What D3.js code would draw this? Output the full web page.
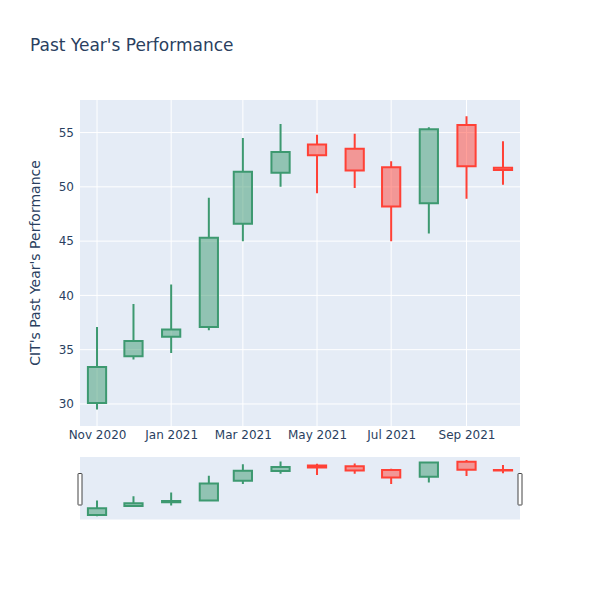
<!DOCTYPE html>
<html>
<head>
<meta charset="utf-8">
<script src="https://cdn.jsdelivr.net/npm/d3@7"></script>
<style>
  body { margin: 0; background: #fff; }
  svg { font-family: "DejaVu Sans", Verdana, sans-serif; }
</style>
</head>
<body>
<div id="chart"></div>
<script>
const MONTHS = ['2020-11-01', '2020-12-01', '2021-01-01', '2021-02-01', '2021-03-01', '2021-04-01',
  '2021-05-01', '2021-06-01', '2021-07-01', '2021-08-01', '2021-09-01', '2021-10-01'];
const OPEN = [30.1, 34.4, 36.2, 37.1, 46.6, 51.3, 53.9, 53.5, 51.8, 48.5, 55.7, 51.75];
const HIGH = [37.1, 39.2, 41.0, 49.0, 54.5, 55.8, 54.8, 54.9, 52.35, 55.5, 56.5, 54.2];
const LOW = [29.5, 34.1, 34.7, 36.8, 45.0, 50.0, 49.4, 49.9, 45.0, 45.7, 48.9, 50.2];
const CLOSE = [33.4, 35.8, 36.85, 45.3, 51.4, 53.2, 52.9, 51.5, 48.2, 55.3, 51.9, 51.55];
const X_TICKS = ['2020-11-01', '2021-01-01', '2021-03-01', '2021-05-01', '2021-07-01', '2021-09-01'];
const Y_TICKS = [30, 35, 40, 45, 50, 55];

const TITLE = "Past Year's Performance";
const Y_TITLE = "CIT's Past Year's Performance";

const WIDTH = 600;
const HEIGHT = 600;
const INC = '#3D9970';
const DEC = '#FF4136';
const TEXT = '#2a3f5f';
const BG = '#E5ECF6';
const FONT = '"DejaVu Sans", Verdana, sans-serif';

const parseDate = d3.utcParse('%Y-%m-%d');
const formatTick = d3.utcFormat('%b %Y');
const DAY = 24 * 3600 * 1000;

function translate(x, y) {
  return `translate(${x}, ${y})`;
}

const data = MONTHS.map((m, i) => ({
  date: parseDate(m), open: OPEN[i], high: HIGH[i], low: LOW[i], close: CLOSE[i]
}));

const svg = d3.select('#chart').append('svg')
  .attr('width', WIDTH)
  .attr('height', HEIGHT);

const margin = {left: 80, right: 80, top: 100};
const plotW = WIDTH - margin.left - margin.right;
const plotH = 326;
const slider = {top: 457, height: 62.5};

// domain padded by half the shortest month gap, like the original
const x = d3.scaleUtc()
  .domain([new Date(data[0].date - 14 * DAY), new Date(+data[data.length - 1].date + 14 * DAY)])
  .range([0, plotW]);

const yDomain = [27.97, 58.0];
const y = d3.scaleLinear().domain(yDomain).range([plotH, 0]);
const ySlider = d3.scaleLinear().domain(yDomain).range([slider.height, 0]);

svg.append('text')
  .attr('x', 30)
  .attr('y', 51)
  .attr('font-size', 17)
  .attr('fill', TEXT)
  .text(TITLE);

const g = svg.append('g').attr('transform', translate(margin.left, margin.top));

g.append('rect')
  .attr('width', plotW)
  .attr('height', plotH)
  .attr('fill', BG);

// grid
g.selectAll('.vgrid').data(X_TICKS.map(parseDate)).enter().append('line')
  .attr('x1', d => x(d)).attr('x2', d => x(d))
  .attr('y1', 0).attr('y2', plotH)
  .attr('stroke', '#fff').attr('stroke-width', 1);

g.selectAll('.hgrid').data(Y_TICKS).enter().append('line')
  .attr('x1', 0).attr('x2', plotW)
  .attr('y1', d => y(d)).attr('y2', d => y(d))
  .attr('stroke', '#fff').attr('stroke-width', 1);

// axes
const xAxis = g.append('g')
  .attr('transform', translate(0, plotH))
  .call(d3.axisBottom(x).tickValues(X_TICKS.map(parseDate)).tickFormat(formatTick).tickSize(0).tickPadding(4));
xAxis.select('.domain').remove();
xAxis.selectAll('text').attr('font-size', 12).attr('fill', TEXT).attr('font-family', FONT);

const yAxis = g.append('g')
  .call(d3.axisLeft(y).tickValues(Y_TICKS).tickSize(0).tickPadding(6));
yAxis.select('.domain').remove();
yAxis.selectAll('text').attr('font-size', 12).attr('fill', TEXT).attr('font-family', FONT);

svg.append('text')
  .attr('transform', `translate(40, ${margin.top + plotH / 2}) rotate(-90)`)
  .attr('text-anchor', 'middle')
  .attr('font-size', 14)
  .attr('fill', TEXT)
  .text(Y_TITLE);

function drawCandles(parent, yScale) {
  const half = 7.5 * DAY;
  const c = parent.selectAll('.candle').data(data).enter().append('g');
  c.append('path')
    .attr('d', d => {
      const xm = x(d.date);
      const x0 = x(new Date(d.date - half));
      const x1 = x(new Date(+d.date + half));
      const top = yScale(Math.max(d.open, d.close));
      const bot = yScale(Math.min(d.open, d.close));
      return `M${x0},${bot}H${x1}V${top}H${x0}Z` +
        `M${xm},${top}V${yScale(d.high)}M${xm},${bot}V${yScale(d.low)}`;
    })
    .attr('fill', d => d.close >= d.open ? INC : DEC)
    .attr('fill-opacity', 0.5)
    .attr('stroke', d => d.close >= d.open ? INC : DEC)
    .attr('stroke-width', 2);
}

drawCandles(g, y);

// range slider
const s = svg.append('g').attr('transform', translate(margin.left, slider.top));
s.append('rect')
  .attr('width', plotW)
  .attr('height', slider.height)
  .attr('fill', BG);

drawCandles(s, ySlider);

[0, plotW].forEach(hx => {
  s.append('rect')
    .attr('x', hx - 2)
    .attr('y', 16.5)
    .attr('width', 4)
    .attr('height', 31.5)
    .attr('rx', 0.5)
    .attr('fill', '#fff')
    .attr('stroke', '#444')
    .attr('stroke-width', 1);
});
</script>
</body>
</html>
